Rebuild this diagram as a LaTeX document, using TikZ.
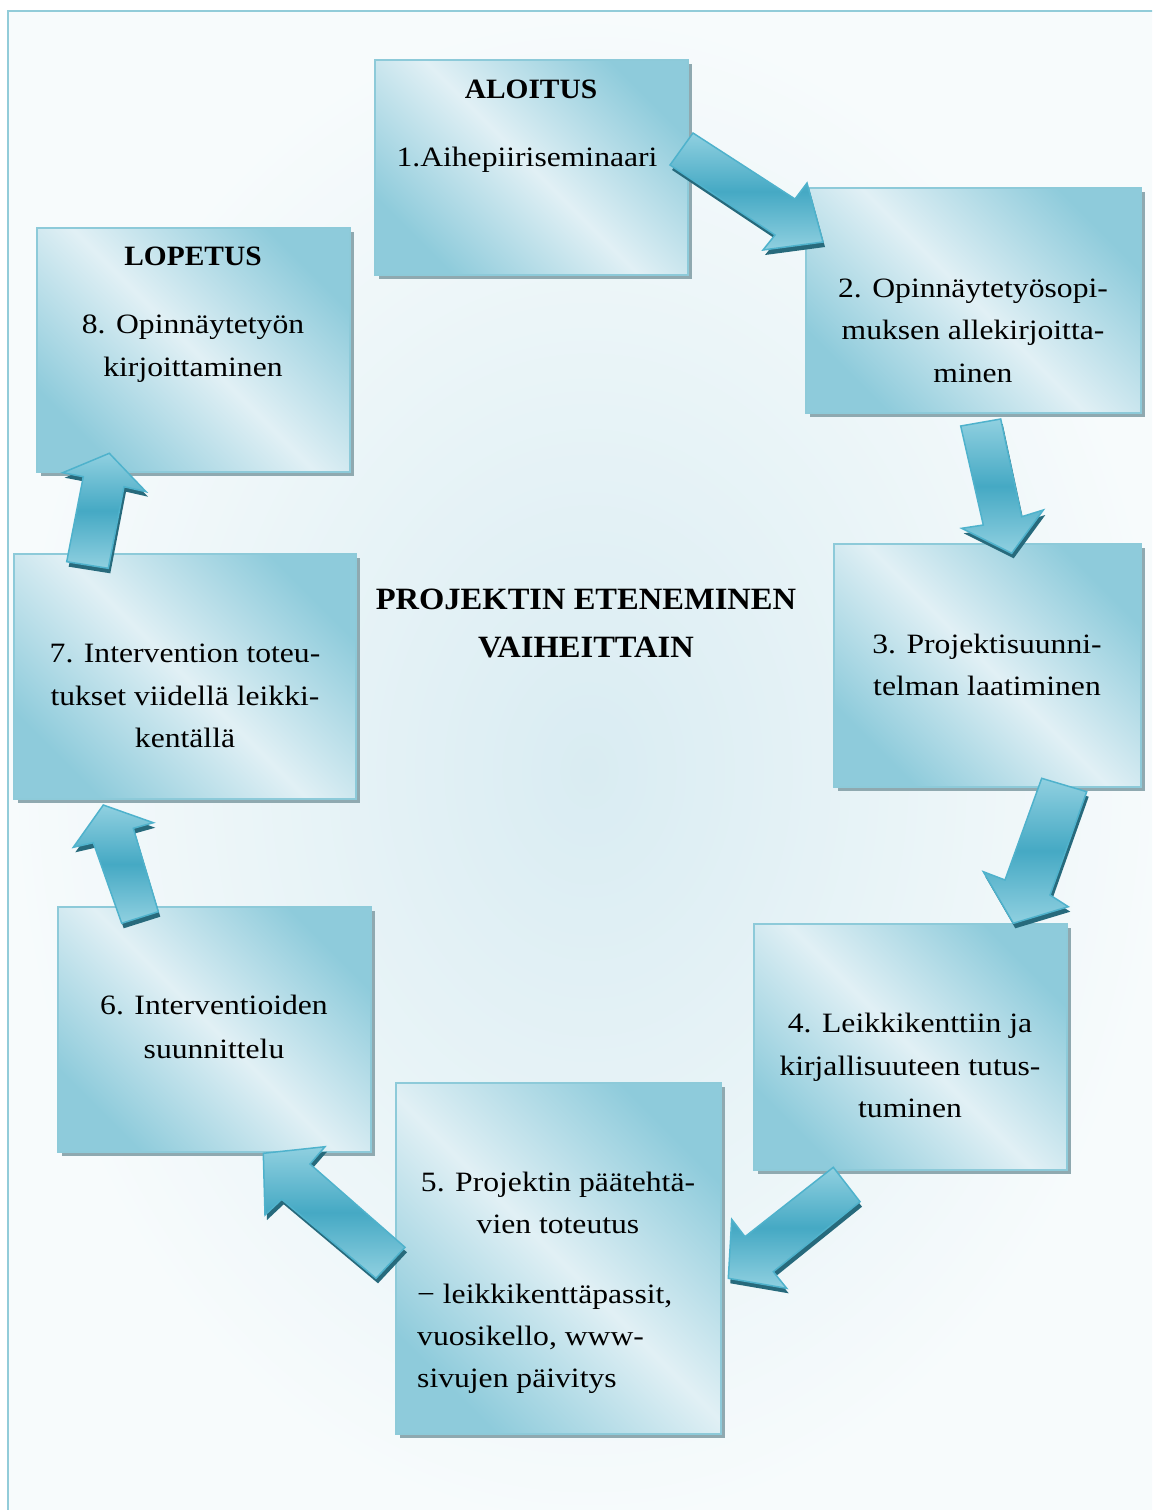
\documentclass[tikz,border=0pt]{standalone}
\usepackage{fontspec}
\setmainfont{Liberation Serif}[FakeStretch=1.13, BoldFeatures={FakeStretch=1.05}]
\usetikzlibrary{shadows}
\definecolor{bgin}{HTML}{D9ECF2}
\definecolor{bgout}{HTML}{F7FBFC}
\definecolor{framec}{HTML}{92CCD9}
\definecolor{boxdark}{HTML}{8ECBDB}
\definecolor{boxlight}{HTML}{E1F0F5}
\definecolor{boxline}{HTML}{8DCAD9}
\definecolor{boxshadow}{HTML}{8FA9B0}
\definecolor{arlight}{HTML}{90D0E0}
\definecolor{armid}{HTML}{45A9C4}
\definecolor{arline}{HTML}{4FB2CC}
\definecolor{arshadow}{HTML}{276A7C}
\newcommand\blockarr[1]{%
  \fill[arshadow, shift={(2pt,-5pt)}] #1 -- cycle;
  \path[draw=arline, line width=1.5pt, top color=arlight, bottom color=arlight, middle color=armid] #1 -- cycle;}
\begin{document}
\begin{tikzpicture}[x=1pt,y=-1pt,
  stage/.style={rectangle, draw=boxline, line width=1.5pt,
    top color=boxdark, bottom color=boxdark, middle color=boxlight, shading angle=-45,
    inner sep=0pt,
    drop shadow={shadow xshift=4pt, shadow yshift=-4pt, fill=boxshadow, opacity=1}},
  txt/.style={font=\fontsize{28}{34}\selectfont, anchor=base, inner sep=0pt},
  txtb/.style={txt, font=\fontsize{28}{34}\selectfont\bfseries},
  ttl/.style={txt, font=\fontsize{31}{36}\selectfont\bfseries}]
\useasboundingbox (0,0) rectangle (1152,1510);
\clip (0,0) rectangle (1152,1510);
% background panel
\shade[inner color=bgin, outer color=bgout] (8,11) rectangle (1170,1530);
\draw[framec, line width=2.5pt] (8,11) rectangle (1170,1530);
% stages
\node[stage, minimum width=313pt, minimum height=215pt] (b1) at (531.5,167.5) {};
\node[stage, minimum width=335pt, minimum height=225pt] (b2) at (973.5,300.5) {};
\node[stage, minimum width=307pt, minimum height=243pt] (b3) at (987.5,665.5) {};
\node[stage, minimum width=313pt, minimum height=246pt] (b4) at (910.5,1047) {};
\node[stage, minimum width=325pt, minimum height=351pt] (b5) at (558.5,1258.5) {};
\node[stage, minimum width=313pt, minimum height=245pt] (b6) at (214.5,1029.5) {};
\node[stage, minimum width=342pt, minimum height=245pt] (b7) at (185,676.5) {};
\node[stage, minimum width=313pt, minimum height=244pt] (b8) at (193.5,350) {};
% texts
\node[txtb] (t1a) at (531,98) {ALOITUS};
\node[txt] (t1b) at (527,166) {1.Aihepiiriseminaari};
\node[txt] (t2a) at (973,297) {2. Opinnäytetyösopi-};
\node[txt] (t2b) at (973,339) {muksen allekirjoitta-};
\node[txt] (t2c) at (973,382) {minen};
\node[txt] (t3a) at (987,653) {3. Projektisuunni-};
\node[txt] (t3b) at (987,695) {telman laatiminen};
\node[txt] (t4a) at (910,1032) {4. Leikkikenttiin ja};
\node[txt] (t4b) at (910,1075) {kirjallisuuteen tutus-};
\node[txt] (t4c) at (910,1117) {tuminen};
\node[txt] (t5a) at (558,1191) {5. Projektin päätehtä-};
\node[txt] (t5b) at (558,1233) {vien toteutus};
\node[txt, anchor=base west] (t5c) at (417,1303) {− leikkikenttäpassit,};
\node[txt, anchor=base west] (t5d) at (417,1345) {vuosikello, www-};
\node[txt, anchor=base west] (t5e) at (417,1387) {sivujen päivitys};
\node[txt] (t6a) at (214,1014) {6. Interventioiden};
\node[txt] (t6b) at (214,1058) {suunnittelu};
\node[txt] (t7a) at (185,662) {7. Intervention toteu-};
\node[txt] (t7b) at (185,705) {tukset viidellä leikki-};
\node[txt] (t7c) at (185,747) {kentällä};
\node[txtb] (t8a) at (193,265) {LOPETUS};
\node[txt] (t8b) at (193,333) {8. Opinnäytetyön};
\node[txt] (t8c) at (193,376) {kirjoittaminen};
\node[ttl] (ti1) at (586,609) {PROJEKTIN ETENEMINEN};
\node[ttl] (ti2) at (586,657) {VAIHEITTAIN};
% block arrows
\blockarr{(693,133) -- (795,199) -- (807,183) -- (823,242) -- (763,250) -- (775,235) -- (670,165)}
\blockarr{(960.7,426) -- (983.3,525) -- (961.7,528.3) -- (1011.7,553.3) -- (1043.3,510) -- (1021.7,516.7) -- (1000.7,419)}
\blockarr{(1041.7,778.3) -- (1005,880) -- (983.3,871.7) -- (1013.3,923.3) -- (1068.3,906.7) -- (1050,895) -- (1086.7,791.7)}
\blockarr{(833.3,1167.3) -- (745,1236.7) -- (731.7,1219.3) -- (728.3,1278.3) -- (786.7,1288.3) -- (773.3,1271.7) -- (860,1201.7)}
\blockarr{(405,1247.3) -- (310,1164) -- (325,1146.7) -- (263.3,1153.3) -- (265,1215) -- (281.7,1199.3) -- (376,1278.3)}
\blockarr{(158.3,911.7) -- (133.3,828.3) -- (153.3,822.7) -- (103.3,805) -- (73.3,847.3) -- (93.3,842.7) -- (121.7,923.3)}
\blockarr{(108.3,568.3) -- (124,486.7) -- (146,491.7) -- (109.3,453.3) -- (62.7,472.7) -- (83.3,476.7) -- (66.7,561.7)}
\end{tikzpicture}
\end{document}
